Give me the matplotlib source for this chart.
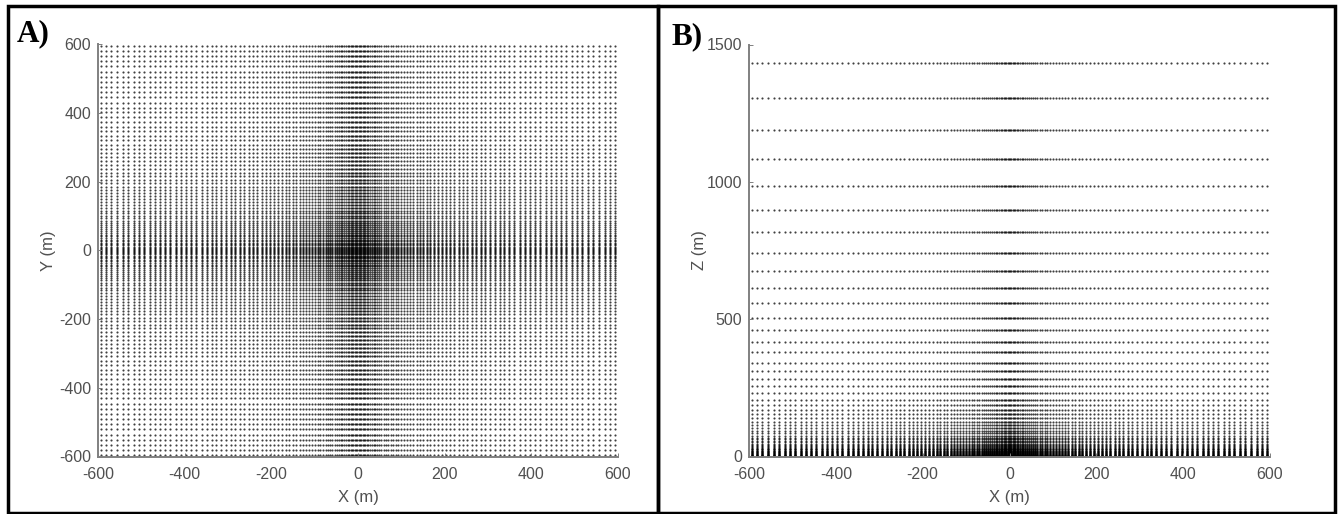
import numpy as np
from matplotlib import pyplot as plt
from matplotlib.patches import Rectangle

W, H = 1343, 514

# Grid coordinates (m), positive half only (grid is symmetric)
x_half = [1.5, 4.5, 7.5, 10.5, 13.5, 17, 20.5, 24, 28, 32, 36, 40, 44.5, 49, 54, 59, 64,
          69.5, 75, 81, 87, 93, 99.5, 106, 113, 120, 127, 135, 143, 151, 159, 167, 176,
          185, 194, 203, 212, 222, 232, 242, 252, 262, 272, 283, 294, 305, 316, 327, 338,
          349, 361, 373, 385, 397, 409, 421, 433, 445, 457, 469, 481, 493, 505, 517, 530,
          543, 556, 569, 582, 594]
y_half = [1.5, 4.5, 8, 11.5, 15, 19, 23, 27, 31.5, 36, 41, 46, 51, 56.5, 62, 68, 74, 80.5,
          87, 94, 101, 108, 116, 124, 132, 140, 149, 158, 167, 176, 186, 196, 206, 216,
          227, 238, 249, 260, 272, 284, 296, 308, 321, 334, 347, 360, 374, 388, 402, 416,
          431, 446, 461, 476, 491, 506, 521, 536, 551, 566, 581, 597]
z_levels = [0, 1, 2, 3, 4, 5, 7, 8, 10, 11, 13, 15, 17, 19, 21, 24, 26, 29, 32, 35, 39, 43,
            47, 52, 57, 63, 69, 76, 84, 92, 103, 115, 126, 139, 154, 170, 188, 207, 230,
            256, 281, 311, 342, 380, 417, 460, 505, 558, 615, 675, 740, 817, 897, 986,
            1082, 1189, 1306, 1431]

xy_ticks = [-600, -400, -200, 0, 200, 400, 600]
z_ticks = [0, 500, 1000, 1500]

GREY = "#505050"
AXIS_GREY = "#808080"
DOT_SIZE = 2.4
DOT_ALPHA = 0.75

plt.rcParams["font.family"] = ["Liberation Sans", "DejaVu Sans"]
plt.rcParams["axes.unicode_minus"] = False

x_all = np.array([-v for v in reversed(x_half)] + x_half)
y_all = np.array([-v for v in reversed(y_half)] + y_half)


def add_axes_px(fig, left, right, top, bottom):
    return fig.add_axes([left / W, 1 - bottom / H, (right - left) / W, (bottom - top) / H])


def style_axes(ax, ylabel, ypad):
    ax.spines["top"].set_visible(False)
    ax.spines["right"].set_visible(False)
    for side in ("left", "bottom"):
        ax.spines[side].set_color(AXIS_GREY)
        ax.spines[side].set_linewidth(1.4)
    ax.tick_params(direction="in", length=3, width=0.7, color=AXIS_GREY,
                   labelcolor=GREY, labelsize=11.5)
    ax.tick_params(axis="x", pad=7.5)
    ax.tick_params(axis="y", pad=5)
    ax.set_xlabel("X (m)", color=GREY, fontsize=12, labelpad=6)
    ax.set_ylabel(ylabel, color=GREY, fontsize=12, labelpad=ypad)


fig = plt.figure(figsize=(W / 100, H / 100), dpi=100)

# A) plan view
ax_a = add_axes_px(fig, 98, 618, 44.5, 456.5)
xx, yy = np.meshgrid(x_all, y_all)
ax_a.scatter(xx.ravel(), yy.ravel(), s=DOT_SIZE, c="black", linewidths=0, alpha=DOT_ALPHA)
ax_a.set_xlim(-600, 600)
ax_a.set_ylim(-600, 600)
ax_a.set_xticks(xy_ticks)
ax_a.set_yticks(xy_ticks)
style_axes(ax_a, "Y (m)", 2)

# B) vertical section
ax_b = add_axes_px(fig, 749, 1270, 44.5, 456.5)
xx, zz = np.meshgrid(x_all, z_levels)
ax_b.scatter(xx.ravel(), zz.ravel(), s=DOT_SIZE, c="black", linewidths=0, alpha=DOT_ALPHA)
ax_b.set_xlim(-600, 600)
ax_b.set_ylim(0, 1500)
ax_b.set_xticks(xy_ticks)
ax_b.set_yticks(z_ticks)
style_axes(ax_b, "Z (m)", 0)

# Panel frames
for left, top, right, bottom in [(8.3, 5.5, 658, 512.5), (658, 5.5, 1334.5, 512.5)]:
    fig.add_artist(Rectangle((left / W, 1 - bottom / H), (right - left) / W, (bottom - top) / H,
                             transform=fig.transFigure, fill=False, edgecolor="black",
                             linewidth=2.5))

fig.text(17 / W, 1 - 41.5 / H, "A)", family="Liberation Serif", weight="bold",
         fontsize=22.5, color="black")
fig.text(672 / W, 1 - 44 / H, "B)", family="Liberation Serif", weight="bold",
         fontsize=22.5, color="black")

fig.savefig("out.png", dpi=100)
plt.close(fig)
